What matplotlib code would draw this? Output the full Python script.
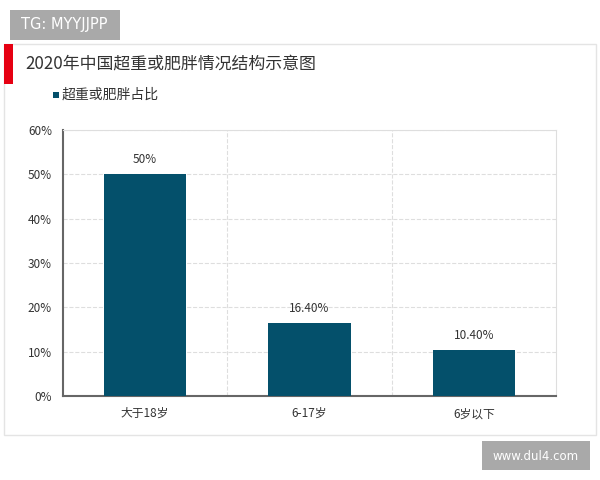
import matplotlib
matplotlib.use('Agg')
import matplotlib.pyplot as plt
from matplotlib.patches import Rectangle

plt.rcParams['font.family'] = ['Noto Sans CJK SC', 'DejaVu Sans']

categories = ['大于18岁', '6-17岁', '6岁以下']
values = [50, 16.4, 10.4]
value_labels = ['50%', '16.40%', '10.40%']
y_ticks = [0, 10, 20, 30, 40, 50, 60]

W, H = 600, 480
BAR_COLOR = '#04506b'


def box(fig, x0, y0, x1, y1, **kw):
	# pixel coords, origin top-left
	fig.add_artist(Rectangle((x0 / W, 1 - y1 / H), (x1 - x0) / W, (y1 - y0) / H,
							 transform=fig.transFigure, **kw))


fig = plt.figure(figsize=(6, 4.8), dpi=100)

# outer frame, red marker, watermarks
box(fig, 4, 44, 596, 435, facecolor='white', edgecolor='#e4e4e4', linewidth=1)
box(fig, 4, 44, 13, 84, facecolor='#e60012', edgecolor='none')
box(fig, 10, 10, 120, 40, facecolor='#a9a9a9', edgecolor='none')
box(fig, 482, 441, 590, 470, facecolor='#a9a9a9', edgecolor='none')
fig.text(21 / W, 1 - 25 / H, 'TG: MYYJJPP', color='white', fontsize=10.5, va='center', ha='left',
		 family='DejaVu Sans')
fig.text(536 / W, 1 - 456 / H, 'www.dul4.com', color='white', fontsize=8.5, va='center', ha='center',
		 family='DejaVu Sans')

fig.text(25 / W, 1 - 64 / H, '2020年中国超重或肥胖情况结构示意图', fontsize=12.2, color='#333333',
		 va='center', ha='left')
box(fig, 53, 92, 59, 98, facecolor=BAR_COLOR, edgecolor='none')
fig.text(62 / W, 1 - 95 / H, '超重或肥胖占比', fontsize=10, color='#333333', va='center', ha='left')

ax = fig.add_axes([63 / W, 1 - 396 / H, 493 / W, 266 / H])
ax.set_zorder(5)
ax.patch.set_alpha(0)
x = list(range(len(categories)))
ax.bar(x, values, width=0.5, color=BAR_COLOR, zorder=3)
ax.set_xlim(-0.5, 2.5)
ax.set_ylim(0, 60)
ax.set_yticks(y_ticks)
ax.set_yticklabels([f'{t}%' for t in y_ticks], fontsize=8.5, color='#333333')
ax.set_xticks(x)
ax.set_xticklabels(categories, fontsize=8.5, color='#333333')
ax.tick_params(axis='x', length=0, pad=8)
ax.tick_params(axis='y', length=0, pad=8)

# dashed separators between categories
ax.grid(axis='y', linestyle='--', color='#dedede', linewidth=0.8, zorder=0)
for sep in [0.5, 1.5]:
	ax.axvline(sep, linestyle='--', color='#dedede', linewidth=0.8, zorder=0)

for s in ['top', 'right']:
	ax.spines[s].set_color('#dedede')
	ax.spines[s].set_linewidth(0.8)
for s in ['left', 'bottom']:
	ax.spines[s].set_color('#666666')
	ax.spines[s].set_linewidth(1.5)

for xi, v, lab in zip(x, values, value_labels):
	ax.annotate(lab, (xi, v), xytext=(0, 6), textcoords='offset points', ha='center', va='bottom',
				fontsize=8.5, color='#333333')

fig.savefig('out.png', dpi=100)
